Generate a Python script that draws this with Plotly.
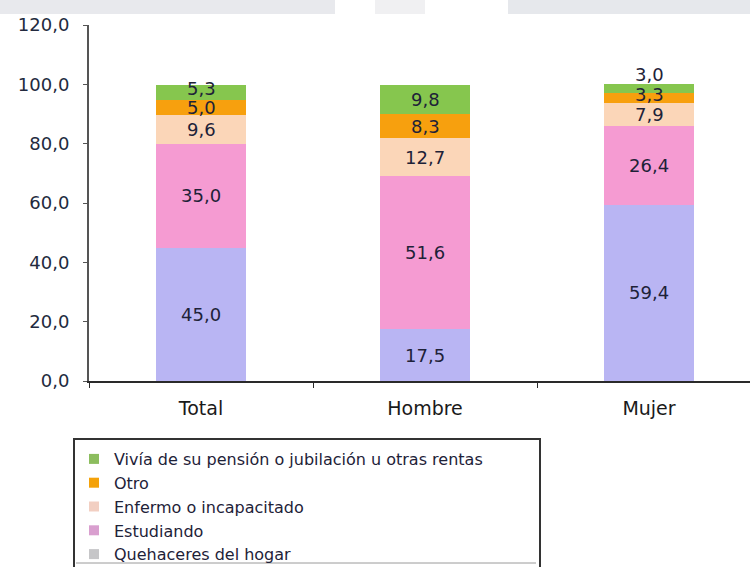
import plotly.graph_objects as go

# Categories and stacked series (percent)
categories = ["Total", "Hombre", "Mujer"]
quehaceres = [45.0, 17.5, 59.4]
estudiando = [35.0, 51.6, 26.4]
enfermo = [9.6, 12.7, 7.9]
otro = [5.0, 8.3, 3.3]
pension = [5.3, 9.8, 3.0]

series_names = [
    "Quehaceres del hogar",
    "Estudiando",
    "Enfermo o incapacitado",
    "Otro",
    "Vivía de su pensión o jubilación u otras rentas",
]
series_values = [quehaceres, estudiando, enfermo, otro, pension]

y_ticks = [0, 20, 40, 60, 80, 100, 120]

# styling
bar_colors = ["#b9b5f3", "#f59bd2", "#fbd6b8", "#f7a00e", "#86c64e"]
legend_colors = ["#c6c6c8", "#d99fcf", "#f2cfc2", "#f4a20a", "#8cbd5e"]
FONT = "DejaVu Sans"
TEXT = "#1e2238"

# small vertical nudges (px) for labels of thin segments
label_nudge = {("Total", 4): 4, ("Mujer", 3): 4, ("Mujer", 4): 14}

fig = go.Figure()

for name, vals, col in zip(series_names, series_values, bar_colors):
    fig.add_trace(go.Bar(
        x=categories, y=vals, name=name, width=0.40,
        marker=dict(color=col, line=dict(width=0)),
        showlegend=False, hoverinfo="skip",
    ))

# legend entries
for name, col in zip(series_names, legend_colors):
    fig.add_trace(go.Scatter(
        x=[None], y=[None], mode="markers", name=name, legendgroup=name,
        marker=dict(symbol="square", size=10, color=col),
    ))

# value labels centred on each segment
annotations = []
for ci, cat in enumerate(categories):
    base = 0.0
    for si, vals in enumerate(series_values):
        v = vals[ci]
        annotations.append(dict(
            x=cat, y=base + v / 2, xref="x", yref="y",
            text=f"{v:.1f}".replace(".", ","), showarrow=False,
            font=dict(family=FONT, size=18, color=TEXT),
            yshift=label_nudge.get((cat, si), 0),
        ))
        base += v

L, T, B = 89, 25, 186
W, H = 750, 567
plot_w, plot_h = W - L, H - T - B

def px_x(p):
    return (p - L) / plot_w

def px_y(p):
    return (H - B - p) / plot_h

shapes = [
    # light band across the top
    dict(type="rect", xref="paper", yref="paper", x0=px_x(0), x1=px_x(335),
         y0=px_y(14), y1=px_y(0), fillcolor="#e8e9ed", line=dict(width=0), layer="below"),
    dict(type="rect", xref="paper", yref="paper", x0=px_x(375), x1=px_x(425),
         y0=px_y(14), y1=px_y(0), fillcolor="#f0f0f2", line=dict(width=0), layer="below"),
    dict(type="rect", xref="paper", yref="paper", x0=px_x(508), x1=px_x(750),
         y0=px_y(14), y1=px_y(0), fillcolor="#e6e8ec", line=dict(width=0), layer="below"),
    # legend frame and separator
    dict(type="rect", xref="paper", yref="paper", x0=px_x(74), x1=px_x(540),
         y0=px_y(580), y1=px_y(439), line=dict(color="#333333", width=2),
         fillcolor="rgba(0,0,0,0)"),
    dict(type="line", xref="paper", yref="paper", x0=px_x(76), x1=px_x(536),
         y0=px_y(563), y1=px_y(563), line=dict(color="#9a9a9a", width=1)),
]

fig.update_layout(
    width=W, height=H,
    margin=dict(l=L, r=0, t=T, b=B, pad=0, autoexpand=False),
    paper_bgcolor="white", plot_bgcolor="white",
    barmode="stack", bargap=0.6,
    font=dict(family=FONT, color=TEXT),
    annotations=annotations, shapes=shapes,
    legend=dict(
        x=px_x(74), y=px_y(442), xanchor="left", yanchor="top",
        xref="paper", yref="paper",
        bgcolor="rgba(0,0,0,0)", borderwidth=0,
        font=dict(family=FONT, size=16, color=TEXT),
        traceorder="reversed", tracegroupgap=1,
        itemclick=False,
    ),
    xaxis=dict(
        range=[-0.5, (W - L) / 224 - 0.5],
        showline=True, linecolor="#2a2a2a", linewidth=2,
        ticks="outside", tickson="boundaries", ticklen=5, tickcolor="#2a2a2a",
        tickfont=dict(family=FONT, size=19, color="#1a1a1a"),
        ticklabelstandoff=9,
        showgrid=False, zeroline=False, fixedrange=True,
    ),
    yaxis=dict(
        range=[0, 120], tickvals=y_ticks,
        ticktext=[f"{t:.1f}".replace(".", ",") for t in y_ticks],
        showline=True, linecolor="#555555", linewidth=2,
        ticks="outside", ticklen=4, tickcolor="#555555",
        tickfont=dict(family=FONT, size=18, color="#232a3e"),
        ticklabelstandoff=10,
        showgrid=False, zeroline=False, fixedrange=True,
    ),
)

fig.write_html("out.html")
